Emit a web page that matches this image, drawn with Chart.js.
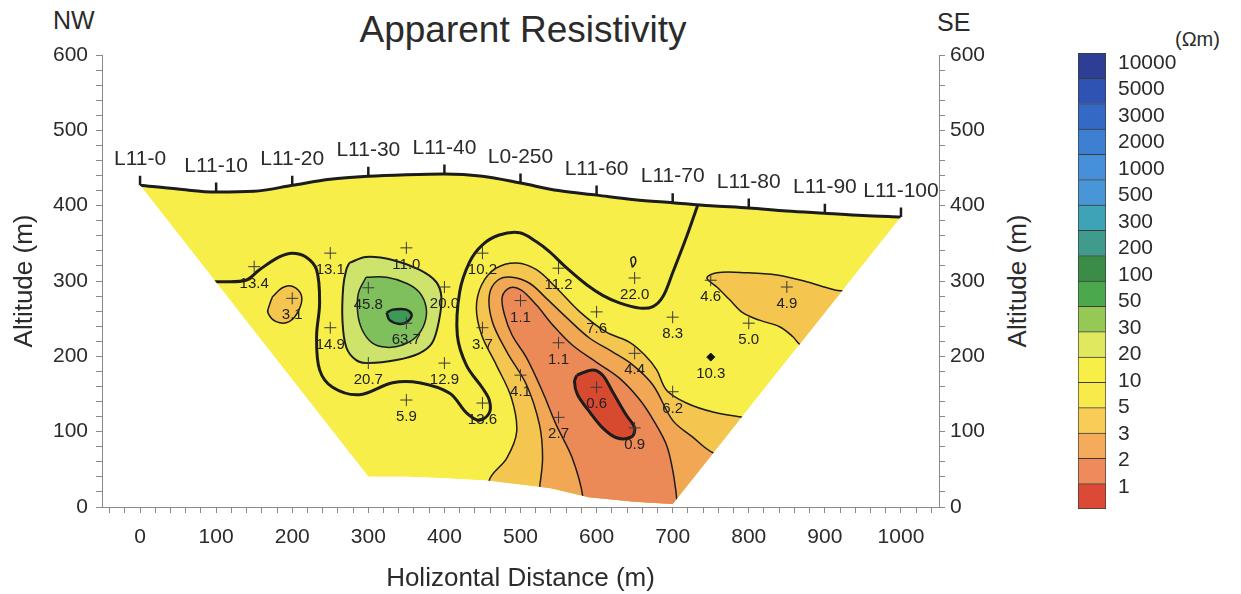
<!DOCTYPE html>
<html lang="en">
<head>
<meta charset="UTF-8">
<title>Apparent Resistivity</title>
<script src="https://cdn.jsdelivr.net/npm/chart.js"></script>
<style>
  body {
    margin: 0;
    width: 1241px;
    height: 594px;
    position: relative;
    overflow: hidden;
    background: #fff;
    font-family: 'Liberation Sans', Arial, sans-serif;
    color: #2b2b2b;
  }
  #section { position: absolute; left: 0; top: 0; }
  #scale { position: absolute; left: 1060px; top: 0; }
  .txt { position: absolute; line-height: 1; white-space: nowrap; }
  #title { left: 523px; top: 11px; font-size: 37px; transform: translateX(-50%); }
  #nw { left: 53px; top: 8px; font-size: 25px; }
  #se { left: 937px; top: 10px; font-size: 25px; }
  #unit { left: 1175px; top: 29px; font-size: 20px; }
  #yRight { left: 1017px; top: 281px; font-size: 26px; transform: translate(-50%, -50%) rotate(-90deg); }
</style>
</head>
<body>
  <div class="txt" id="title">Apparent Resistivity</div>
  <div class="txt" id="nw">NW</div>
  <div class="txt" id="se">SE</div>
  <div class="txt" id="unit">(Ωm)</div>
  <div class="txt" id="yRight">Altitude (m)</div>
  <canvas id="section" width="1060" height="594"></canvas>
  <canvas id="scale" width="181" height="594"></canvas>

<script>
// ---- survey line ----
const stationNames = ['L11-0', 'L11-10', 'L11-20', 'L11-30', 'L11-40', 'L0-250', 'L11-60', 'L11-70', 'L11-80', 'L11-90', 'L11-100'];
const stationX = [0, 100, 200, 300, 400, 500, 600, 700, 800, 900, 1000];
const surfaceX = [0, 50, 100, 150, 200, 250, 300, 350, 400, 450, 500, 550, 600, 650, 700, 750, 800, 850, 900, 950, 1000];
const surfaceY = [427, 422, 418, 419, 427, 435, 439, 441, 442, 439, 430, 420, 414, 408, 404, 400, 397, 393, 390, 387, 385];
// bottom of the section, right corner to left corner
const baseX = [700, 650, 590, 540, 500, 459, 400, 350, 300];
const baseY = [4, 7, 13, 25, 30, 35, 38, 40, 40];

// ---- measured apparent resistivity (ohm-m) ----
const sampleX = [150, 250, 350, 200, 300, 400, 350, 250, 300, 400, 350, 450, 450, 550, 650, 500, 600, 450, 550, 650, 500, 600, 550, 650, 700, 750, 850, 800, 700];
const sampleY = [319, 337, 344, 277, 291, 292, 244, 238, 191, 191, 142, 138, 337, 317, 304, 274, 259, 238, 218, 204, 175, 159, 119, 105, 252, 301, 292, 244, 153];
const sampleValue = [13.4, 13.1, 11.0, 3.1, 45.8, 20.0, 63.7, 14.9, 20.7, 12.9, 5.9, 13.6, 10.2, 11.2, 22.0, 1.1, 7.6, 3.7, 1.1, 4.4, 4.1, 0.6, 2.7, 0.9, 8.3, 4.6, 4.9, 5.0, 6.2];
const markX = [750];
const markY = [199];
const markValue = [10.3];

// ---- contour lines [x, y] ----
const contour10 = [[88,298],[100,299],[139,301],[157,315],[183,332],[200,337],[218,332],[232,315],[236,271],[232,226],[236,182],[253,159],[288,149],[332,165],[367,165],[407,151],[429,125],[446,115],[459,125],[459,142],[450,158],[429,188],[417,228],[420,285],[433,325],[450,348],[472,361],[499,364],[521,352],[538,339],[561,317],[587,295],[608,281],[630,271],[657,264],[674,266],[687,279],[700,311],[718,358],[733,401]];
const contour5 = [[452,-20],[459,36],[482,65],[495,100],[488,145],[468,189],[449,228],[442,264],[449,295],[468,317],[495,324],[521,315],[547,291],[578,259],[613,232],[643,219],[663,202],[679,182],[692,155],[718,138],[753,126],[792,119],[850,110],[850,-20],[452,-20]];
const contour3 = [[520,-20],[525,25],[529,65],[525,109],[508,162],[482,206],[463,246],[459,281],[470,301],[489,305],[512,297],[534,277],[561,251],[591,224],[621,206],[647,189],[674,162],[700,115],[726,93],[753,72],[800,60],[800,-20],[520,-20]];
const contour2 = [[580,-20],[582,13],[568,65],[547,109],[529,153],[508,198],[489,228],[479,255],[476,279],[486,291],[501,288],[521,268],[542,242],[568,215],[600,192],[630,171],[657,142],[676,113],[692,82],[700,49],[704,23],[707,3],[720,-20],[580,-20]];
const contour1 = [[574,175],[595,182],[608,175],[621,153],[639,122],[650,105],[646,93],[626,92],[608,105],[591,126],[575,149],[571,166],[574,175]];
const contour5East = [[960,287],[920,287],[903,291],[876,299],[837,308],[797,311],[758,311],[745,304],[758,292],[775,275],[792,258],[814,248],[841,239],[858,226],[867,216],[900,200],[960,287]];
const contour5West = [[174,279],[187,291],[200,293],[212,281],[209,262],[196,246],[179,246],[168,258],[170,268],[174,279]];
const contour20 = [[275,324],[297,332],[332,328],[367,315],[389,299],[396,279],[393,248],[384,218],[367,204],[337,195],[301,191],[284,195],[271,212],[266,248],[267,292],[271,315],[275,324]];
const contour30 = [[297,305],[324,305],[350,297],[367,285],[376,265],[374,244],[363,226],[345,215],[324,212],[305,218],[292,235],[286,258],[287,284],[297,305]];
const contour50 = [[324,258],[332,262],[350,262],[357,255],[351,246],[341,243],[328,248],[324,258]];
const contour20Small = [[647,318],[651,324],[651,330],[648,332],[645,329],[646,323],[647,318]];

// ---- colour scale ----
const scaleLabels = ['1', '2', '3', '5', '10', '20', '30', '50', '100', '200', '300', '500', '1000', '2000', '3000', '5000', '10000'];
const scaleColors = ['#dc4a36', '#ef8a5a', '#f4ab5c', '#f7cd58', '#f8ea4a', '#f8ee48', '#e0e85e', '#96c855', '#4ba84c', '#3a8c46', '#3f9b8c', '#3ea3b6', '#4896d8', '#4690db', '#3d80d2', '#3569c6', '#2f53b2', '#2e3e95'];

const FONT = "'Liberation Sans', Arial, sans-serif";
const INK = '#2b2b2b';
const LINE = '#1c1c1c';
const AXIS = '#8a8a8a';
Chart.defaults.font.family = FONT;

const pts = (xs, ys) => xs.map((v, i) => ({ x: v, y: ys[i] }));
const pairs = arr => arr.map(([x, y]) => ({ x, y }));
const stationY = stationX.map(v => surfaceY[surfaceX.indexOf(v)]);

function area(points, color, width, tension) {
  return {
    data: pairs(points),
    showLine: true,
    fill: color ? 'shape' : false,
    backgroundColor: color || 'transparent',
    borderColor: width ? LINE : 'transparent',
    borderWidth: width,
    tension: tension === undefined ? 0.35 : tension,
    pointRadius: 0
  };
}

const layers = [
  Object.assign(area([], '#f7ee4a', 0, 0), {
    data: pts(surfaceX, surfaceY).concat(pts(baseX, baseY), [{ x: surfaceX[0], y: surfaceY[0] }])
  }),
  area(contour5, '#f5c64f', 1.5),
  area(contour3, '#f2a754', 1.5),
  area(contour2, '#ec8a57', 1.5),
  area(contour1, '#d84a30', 3),
  area(contour5East, '#f5c64f', 1.5),
  area(contour5West, '#f5c64f', 1.5),
  area(contour20, '#cde36c', 2),
  area(contour30, '#7fc05c', 1.5),
  area(contour50, '#3d9a56', 2.5),
  area(contour10, null, 3),
  area(contour20Small, null, 1.5),
  {
    data: pts(surfaceX, surfaceY), showLine: true, fill: false,
    borderColor: LINE, borderWidth: 3, tension: 0.4, cubicInterpolationMode: 'monotone', pointRadius: 0
  },
  {
    data: stationX.map((v, i) => ({ x: v, y: stationY[i] + 6 })),
    pointStyle: 'line', rotation: 90, pointRadius: 5,
    pointBorderWidth: 2.5, pointBorderColor: LINE
  },
  {
    label: 'samples',
    data: pts(sampleX, sampleY),
    pointStyle: 'cross', pointRadius: 6, pointBorderWidth: 1,
    pointBorderColor: '#3a3a3a'
  },
  {
    label: 'mark',
    data: pts(markX, markY),
    pointStyle: 'rectRot', pointRadius: 4, pointBorderWidth: 1,
    pointBackgroundColor: '#111', pointBorderColor: '#111'
  }
];
// first layer at the bottom
layers.forEach((d, i) => { d.order = layers.length - i; });

// keep the coloured cells inside the surveyed section, then write the labels
const sectionPlugin = {
  id: 'sectionPlugin',
  beforeDatasetsDraw(chart) {
    const { ctx, scales: { x, y } } = chart;
    const n = surfaceX.length - 1;
    const left = x.getPixelForValue(surfaceX[0]);
    const right = x.getPixelForValue(surfaceX[n]);
    ctx.save();
    ctx.beginPath();
    ctx.moveTo(left, y.getPixelForValue(surfaceY[0]));
    ctx.lineTo(left - 4, y.getPixelForValue(surfaceY[0]));
    ctx.lineTo(left - 4, 0);
    ctx.lineTo(right + 4, 0);
    ctx.lineTo(right + 4, y.getPixelForValue(surfaceY[n]));
    ctx.lineTo(right, y.getPixelForValue(surfaceY[n]));
    baseX.forEach((v, i) => ctx.lineTo(x.getPixelForValue(v), y.getPixelForValue(baseY[i])));
    ctx.closePath();
    ctx.clip();
  },
  afterDatasetsDraw(chart) {
    const { ctx, scales: { x, y } } = chart;
    ctx.restore();
    ctx.save();
    ctx.fillStyle = INK;
    ctx.textAlign = 'center';
    ctx.textBaseline = 'middle';

    ctx.font = '21px ' + FONT;
    stationNames.forEach((name, i) => {
      ctx.fillText(name, x.getPixelForValue(stationX[i]), y.getPixelForValue(stationY[i]) - 26);
    });

    ctx.font = '15px ' + FONT;
    ctx.fillStyle = '#222';
    chart.data.datasets.forEach((ds, di) => {
      const values = ds.label === 'samples' ? sampleValue : ds.label === 'mark' ? markValue : null;
      if (!values) return;
      chart.getDatasetMeta(di).data.forEach((pt, i) => {
        ctx.fillText(values[i].toFixed(1), pt.x, pt.y + 17);
      });
    });
    ctx.restore();
  }
};

function everyStep(min, max, step) {
  const out = [];
  for (let v = min; v <= max; v += step) out.push({ value: v });
  return out;
}

function sideAxis(position, width, pad) {
  return {
    type: 'linear', position, min: 0, max: 600,
    afterBuildTicks(s) { s.ticks = everyStep(0, 600, 20); },
    afterFit(s) { s.width = width; },
    grid: { drawOnChartArea: false, drawTicks: true, tickLength: 6, color: AXIS },
    border: { display: true, color: AXIS },
    ticks: {
      autoSkip: false, padding: pad, color: INK, font: { size: 21 },
      callback: v => (v % 100 === 0 ? v : '')
    }
  };
}

const yLeft = sideAxis('left', 102, 8);
yLeft.title = { display: true, text: 'Altitude (m)', color: INK, font: { size: 26 }, padding: { top: 9, bottom: 0 } };

new Chart(document.getElementById('section'), {
  type: 'scatter',
  data: { datasets: layers },
  options: {
    responsive: false,
    animation: false,
    events: [],
    layout: { padding: { top: 55, left: 0, right: 0, bottom: 0 } },
    plugins: { legend: { display: false }, tooltip: { enabled: false } },
    scales: {
      x: {
        type: 'linear', position: 'bottom', min: -50, max: 1050,
        afterBuildTicks(s) { s.ticks = everyStep(-40, 1040, 20); },
        afterFit(s) { s.height = 87; },
        grid: { drawOnChartArea: false, drawTicks: true, tickLength: 6, color: AXIS },
        border: { display: true, color: AXIS },
        ticks: {
          autoSkip: false, maxRotation: 0, padding: 12, color: INK, font: { size: 21 },
          callback: v => (v % 100 === 0 && v >= 0 && v <= 1000 ? v : '')
        },
        title: { display: true, text: 'Holizontal Distance (m)', color: INK, font: { size: 26 }, padding: { top: 3, bottom: 0 } }
      },
      y: yLeft,
      y2: sideAxis('right', 121, 5)
    }
  },
  plugins: [sectionPlugin]
});

// colour bar: one stacked segment per class
new Chart(document.getElementById('scale'), {
  type: 'bar',
  data: {
    labels: [''],
    datasets: scaleColors.map((c, i) => ({
      data: [1],
      backgroundColor: c,
      borderColor: '#3c3c3c',
      borderWidth: { top: 1, left: 1, right: 1, bottom: i === 0 ? 1 : 0 },
      borderSkipped: false,
      barPercentage: 1,
      categoryPercentage: 1
    }))
  },
  options: {
    responsive: false,
    animation: false,
    events: [],
    layout: { padding: { left: 18, top: 53, bottom: 85, right: 0 } },
    plugins: { legend: { display: false }, tooltip: { enabled: false } },
    scales: {
      x: { display: false, stacked: true },
      y: { display: false, stacked: true, min: 0, max: scaleColors.length },
      yLab: {
        type: 'linear', position: 'right', min: -0.83, max: 16.38,
        afterBuildTicks(s) { s.ticks = everyStep(0, scaleLabels.length - 1, 1); },
        afterFit(s) { s.width = 135; },
        grid: { display: false, drawTicks: false },
        border: { display: false },
        ticks: { autoSkip: false, padding: 12, color: INK, font: { size: 21 }, callback: v => scaleLabels[v] }
      }
    }
  }
});
</script>
</body>
</html>
